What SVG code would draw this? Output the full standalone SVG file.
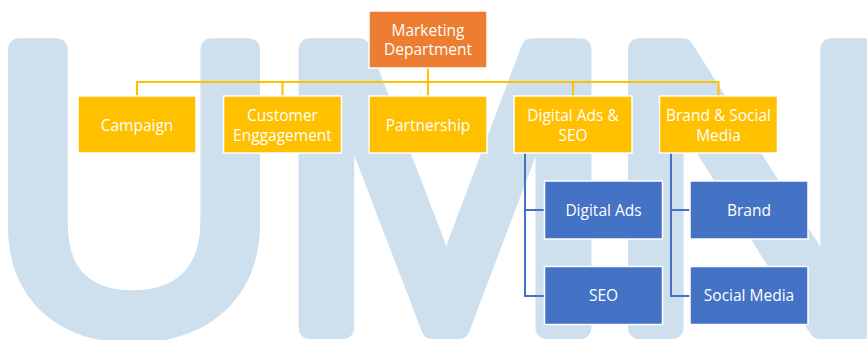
<svg xmlns="http://www.w3.org/2000/svg" width="867" height="340" viewBox="0 0 867 340">
  <style>
    .wm { font-family: "Liberation Sans", Arial, sans-serif; font-weight: normal; font-size: 405px; fill: #CEDFEE; stroke: #CEDFEE; stroke-width: 22; stroke-linejoin: round; }
    .box { stroke: #FFFFFF; stroke-width: 1.5; }
    .top { fill: #ED7D31; }
    .mid { fill: #FFC000; }
    .sub { fill: #4472C4; }
    .lbl { font-family: "Open Sans", "Liberation Sans", sans-serif; font-size: 15.5px; fill: #FFFFFF; text-anchor: middle; }
    .cy { stroke: #FFC000; stroke-width: 2; fill: none; }
    .cb { stroke: #4472C4; stroke-width: 2; fill: none; }
  </style>
  <rect width="867" height="340" fill="#FFFFFF"/>
  <g id="watermark">
    <text class="wm" x="134 445 752" y="328" text-anchor="middle">UMN</text>
  </g>
  <g id="connectors">
    <path class="cy" d="M428,68 V96 M137,82 H719 M137,81 V96 M282.5,81 V96 M573,81 V96 M718.5,81 V96"/>
    <path class="cb" d="M525,153 V296 H545 M524,210 H545 M671,153 V296 H691 M670,210 H691"/>
  </g>
  <g id="marketing">
    <rect class="box top" x="369" y="11" width="118" height="57"/>
    <text class="lbl" x="428" y="35.5">Marketing</text>
    <text class="lbl" x="428" y="54.5">Department</text>
  </g>
  <g id="campaign">
    <rect class="box mid" x="78" y="96" width="118" height="57"/>
    <text class="lbl" x="137" y="130.5">Campaign</text>
  </g>
  <g id="customer">
    <rect class="box mid" x="223.5" y="96" width="118" height="57"/>
    <text class="lbl" x="282.5" y="120.5">Customer</text>
    <text class="lbl" x="282.5" y="140.5">Enggagement</text>
  </g>
  <g id="partnership">
    <rect class="box mid" x="369" y="96" width="118" height="57"/>
    <text class="lbl" x="428" y="130.5">Partnership</text>
  </g>
  <g id="digital-seo">
    <rect class="box mid" x="514" y="96" width="118" height="57"/>
    <text class="lbl" x="573" y="120.5">Digital Ads &amp;</text>
    <text class="lbl" x="573" y="140.5">SEO</text>
  </g>
  <g id="brand-social">
    <rect class="box mid" x="659.5" y="96" width="118" height="57"/>
    <text class="lbl" x="718.5" y="120.5">Brand &amp; Social</text>
    <text class="lbl" x="718.5" y="140.5">Media</text>
  </g>
  <g id="digital-ads">
    <rect class="box sub" x="544.5" y="181" width="118" height="58"/>
    <text class="lbl" x="603.5" y="216">Digital Ads</text>
  </g>
  <g id="seo">
    <rect class="box sub" x="544.5" y="266.5" width="118" height="58"/>
    <text class="lbl" x="603.5" y="301">SEO</text>
  </g>
  <g id="brand">
    <rect class="box sub" x="690" y="181" width="118" height="58"/>
    <text class="lbl" x="749" y="216">Brand</text>
  </g>
  <g id="social-media">
    <rect class="box sub" x="690" y="266.5" width="118" height="58"/>
    <text class="lbl" x="749" y="301">Social Media</text>
  </g>
</svg>
